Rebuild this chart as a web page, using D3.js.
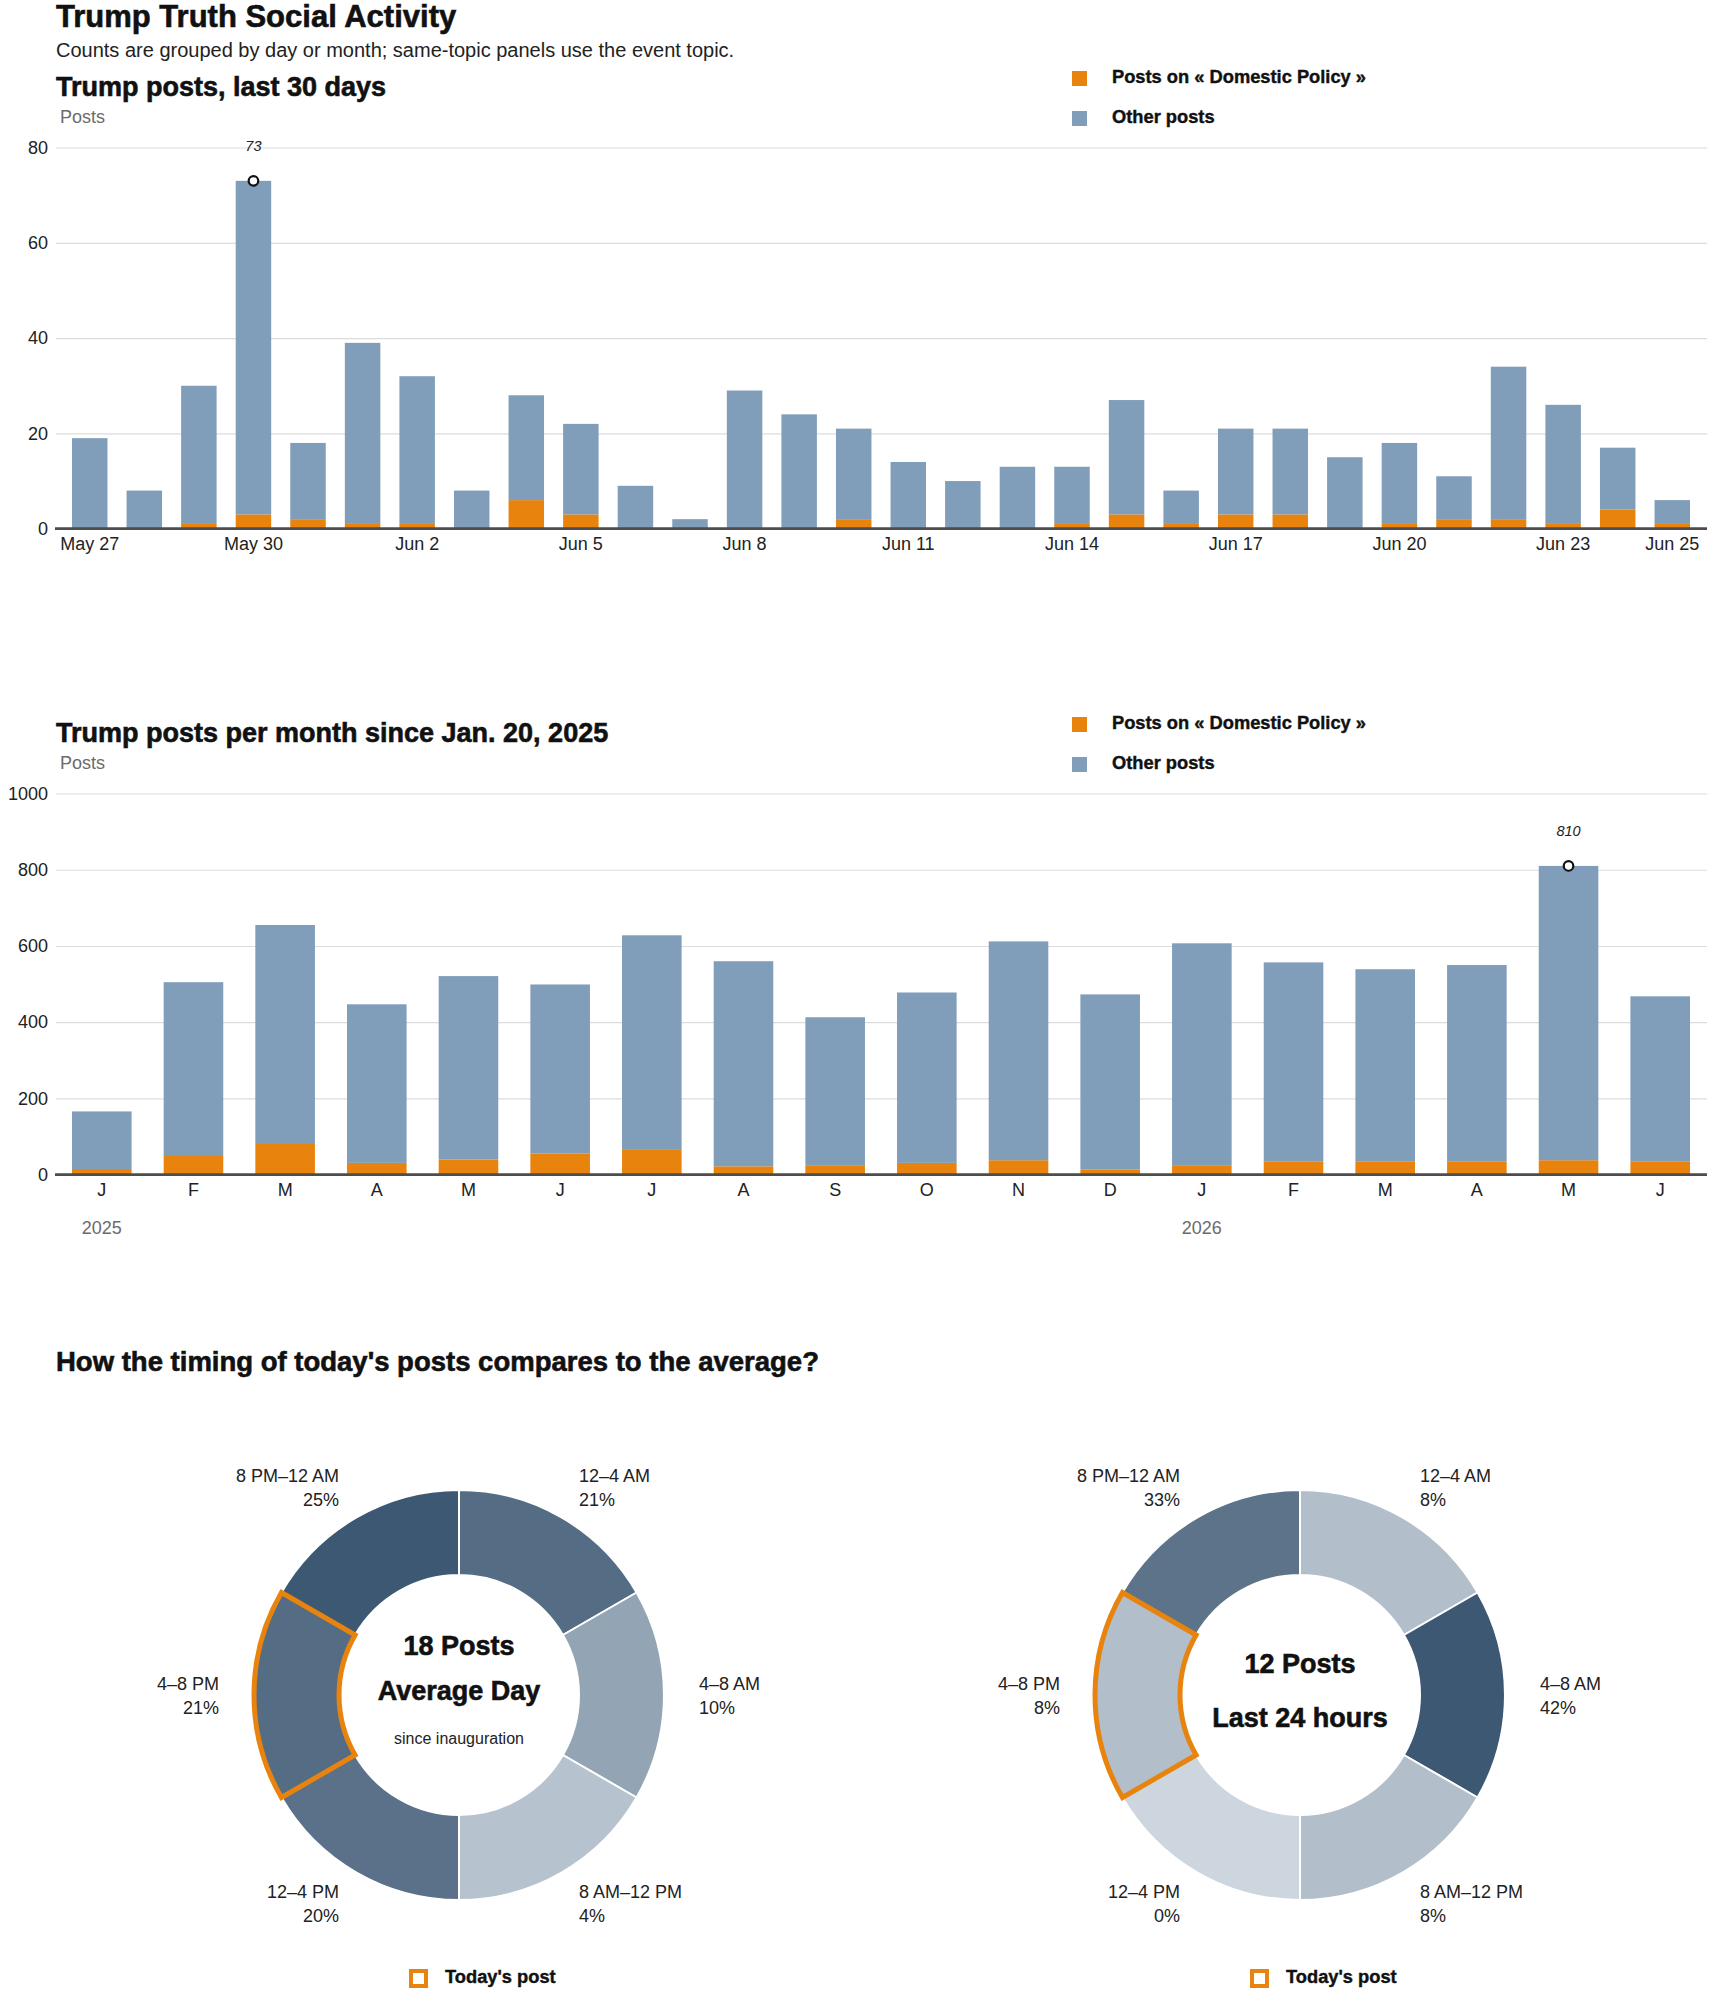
<!DOCTYPE html>
<html>
<head>
<meta charset="utf-8">
<script src="https://cdn.jsdelivr.net/npm/d3@7"></script>
<style>
  body { margin: 0; background: #fff; }
  svg text { font-family: "Liberation Sans", Arial, sans-serif; fill: #222; }
  .h1 { font-size: 31px; font-weight: 700; fill: #111; stroke: #111; stroke-width: 0.6px; }
  .sub { font-size: 20px; fill: #222; }
  .h2 { font-size: 27px; font-weight: 700; fill: #111; stroke: #111; stroke-width: 0.6px; }
  .h2.wide { font-size: 27.5px; }
  .leg { font-size: 18.3px; font-weight: 700; fill: #111; stroke: #111; stroke-width: 0.4px; }
  .unit { font-size: 18px; fill: #6b6b6b; }
  .axis text { font-size: 18px; fill: #222; }
  .year { font-size: 18px; fill: #6b6b6b; }
  .note { font-size: 14.5px; font-style: italic; fill: #222; }
  .slot { font-size: 18px; fill: #222; }
  .big { font-size: 27px; font-weight: 700; fill: #111; stroke: #111; stroke-width: 0.6px; }
  .small { font-size: 16px; fill: #222; }
</style>
</head>
<body>
<script>
// ---- données ----
const days = ["May 27","May 28","May 29","May 30","May 31","Jun 1","Jun 2","Jun 3","Jun 4","Jun 5",
  "Jun 6","Jun 7","Jun 8","Jun 9","Jun 10","Jun 11","Jun 12","Jun 13","Jun 14","Jun 15",
  "Jun 16","Jun 17","Jun 18","Jun 19","Jun 20","Jun 21","Jun 22","Jun 23","Jun 24","Jun 25"];
const dayTotal = [19,8,30,73,18,39,32,8,28,22,9,2,29,24,21,14,10,13,13,27,8,21,21,15,18,11,34,26,17,6];
const dayTopic = [0,0,1,3,2,1,1,0,6,3,0,0,0,0,2,0,0,0,1,3,1,3,3,0,1,2,2,1,4,1];
const dayTicks = ["May 27","May 30","Jun 2","Jun 5","Jun 8","Jun 11","Jun 14","Jun 17","Jun 20","Jun 23","Jun 25"];

const months = ["2025-01","2025-02","2025-03","2025-04","2025-05","2025-06","2025-07","2025-08","2025-09",
  "2025-10","2025-11","2025-12","2026-01","2026-02","2026-03","2026-04","2026-05","2026-06"];
const monthLetters = ["J","F","M","A","M","J","J","A","S","O","N","D","J","F","M","A","M","J"];
const monthTotal = [166,505,655,447,521,499,628,560,413,478,612,473,607,557,539,550,810,468];
const monthTopic = [15,49,83,31,40,56,67,22,25,31,38,14,25,34,34,34,38,34];
const years = [{ month: "2025-01", label: "2025" }, { month: "2026-01", label: "2026" }];

const slots = ["12–4 AM","4–8 AM","8 AM–12 PM","12–4 PM","4–8 PM","8 PM–12 AM"];
const avgShare = [21,10,4,20,21,25];
const todayShare = [8,42,8,0,8,33];
const todaySlot = "4–8 PM";

const topic = "Domestic Policy";
const orange = "#e8830e", blue = "#809db9";

// ---- canevas ----
const svg = d3.select("body").append("svg")
  .attr("width", 1710)
  .attr("height", 1993);

svg.append("text").attr("class", "h1").attr("x", 56).attr("y", 27).text("Trump Truth Social Activity");
svg.append("text").attr("class", "sub").attr("x", 56).attr("y", 57)
  .text("Counts are grouped by day or month; same-topic panels use the event topic.");

const legendItems = [
  { label: "Posts on « " + topic + " »", color: orange },
  { label: "Other posts", color: blue }
];

function barChart(o) {
  const g = svg.append("g").attr("transform", `translate(0,${o.dy})`);

  const x = d3.scaleBand().domain(o.cats).range([72, 1690]).paddingInner(0.35).paddingOuter(0);
  const y = d3.scaleLinear().domain([0, o.yMax]).range([528.7, 147.5]);

  g.append("text").attr("class", "h2").attr("x", 56).attr("y", 96).text(o.title);
  g.append("text").attr("class", "unit").attr("x", 60).attr("y", 123).text("Posts");

  // légende
  const leg = g.append("g").selectAll("g").data(legendItems).join("g")
    .attr("transform", (d, i) => `translate(1072,${71 + i * 40})`);
  leg.append("rect").attr("width", 15).attr("height", 15).attr("fill", d => d.color);
  leg.append("text").attr("class", "leg").attr("x", 40).attr("y", 11.5).text(d => d.label);

  // grille + axe y
  g.append("g").attr("class", "axis").attr("transform", "translate(56,0)")
    .call(d3.axisLeft(y).tickValues(o.yTicks).tickFormat(d3.format("d")).tickSize(-1651).tickPadding(8))
    .call(a => a.attr("font-size", null).attr("font-family", null))
    .call(a => a.select(".domain").remove())
    .call(a => a.selectAll("line").attr("stroke", "#dcdcdc").attr("stroke-width", 1.2));

  // barres empilées
  const rows = o.cats.map((c, i) => ({ cat: c, topic: o.topic[i], other: o.total[i] - o.topic[i] }));
  const series = d3.stack().keys(["topic", "other"])(rows);
  g.append("g").selectAll("g").data(series).join("g")
    .attr("fill", d => d.key == "topic" ? orange : blue)
    .selectAll("rect").data(d => d).join("rect")
    .attr("x", d => x(d.data.cat))
    .attr("width", x.bandwidth())
    .attr("y", d => y(d[1]))
    .attr("height", d => y(d[0]) - y(d[1]));

  // axe x
  g.append("g").attr("class", "axis").attr("transform", `translate(0,${y(0)})`)
    .call(d3.axisBottom(x).tickValues(o.ticks).tickFormat(o.fmt).tickSize(0).tickPadding(9))
    .call(a => a.attr("font-size", null).attr("font-family", null))
    .call(a => a.select(".domain").remove());

  g.append("line")
    .attr("x1", 55).attr("x2", 1707)
    .attr("y1", y(0)).attr("y2", y(0))
    .attr("stroke", "#4d4d4d").attr("stroke-width", 2.7);

  // maximum
  const iMax = d3.maxIndex(o.total);
  const cx = x(o.cats[iMax]) + x.bandwidth() / 2;
  g.append("circle").attr("cx", cx).attr("cy", y(o.total[iMax])).attr("r", 4.8)
    .attr("fill", "#fff").attr("stroke", "#111").attr("stroke-width", 2.2);
  g.append("text").attr("class", "note").attr("x", cx).attr("y", y(o.total[iMax]) - 30)
    .attr("text-anchor", "middle").text(o.total[iMax]);

  if (o.years) {
    g.selectAll("text.year").data(o.years).join("text")
      .attr("class", "year")
      .attr("x", d => x(d.month) + x.bandwidth() / 2)
      .attr("y", y(0) + 59)
      .attr("text-anchor", "middle")
      .text(d => d.label);
  }
}

barChart({
  dy: 0, title: "Trump posts, last 30 days",
  cats: days, total: dayTotal, topic: dayTopic,
  yMax: 80, yTicks: [0, 20, 40, 60, 80],
  ticks: dayTicks, fmt: d => d
});

barChart({
  dy: 646, title: "Trump posts per month since Jan. 20, 2025",
  cats: months, total: monthTotal, topic: monthTopic,
  yMax: 1000, yTicks: [0, 200, 400, 600, 800, 1000],
  ticks: months, fmt: d => monthLetters[months.indexOf(d)],
  years: years
});

// ---- anneaux ----
svg.append("text").attr("class", "h2 wide").attr("x", 56).attr("y", 1371)
  .text("How the timing of today's posts compares to the average?");

const pie = d3.pie().value(() => 4).sort(null);
const arc = d3.arc().innerRadius(120).outerRadius(205);

function donut(cx, cy, shares, lines) {
  const g = svg.append("g").attr("transform", `translate(${cx},${cy})`);
  const color = d3.scaleLinear().domain([0, d3.max(shares)]).range(["#cdd6df", "#3d5873"]);
  const arcs = pie(slots.map((s, i) => ({ slot: s, share: shares[i] })));

  g.selectAll("path.slice").data(arcs).join("path")
    .attr("class", "slice")
    .attr("d", arc)
    .attr("fill", d => color(d.data.share))
    .attr("stroke", "#fff")
    .attr("stroke-width", 2);

  g.selectAll("path.today").data(arcs.filter(d => d.data.slot == todaySlot)).join("path")
    .attr("class", "today")
    .attr("d", arc)
    .attr("fill", "none")
    .attr("stroke", orange)
    .attr("stroke-width", 5);

  const lab = g.selectAll("text.slot").data(arcs).join("text")
    .attr("class", "slot")
    .attr("text-anchor", d => Math.sin((d.startAngle + d.endAngle) / 2) > 0 ? "start" : "end")
    .attr("transform", d => {
      const a = (d.startAngle + d.endAngle) / 2;
      return `translate(${240 * Math.sin(a)},${-240 * Math.cos(a)})`;
    });
  lab.append("tspan").attr("x", 0).attr("y", -5).text(d => d.data.slot);
  lab.append("tspan").attr("x", 0).attr("y", 19).text(d => d.data.share + "%");

  lines.forEach(l => {
    g.append("text").attr("class", l.cls).attr("y", l.y).attr("text-anchor", "middle").text(l.text);
  });

  const leg = g.append("g").attr("transform", "translate(0,276)");
  leg.append("rect").attr("x", -48).attr("y", 0).attr("width", 15).attr("height", 15)
    .attr("fill", "#fff").attr("stroke", orange).attr("stroke-width", 4);
  leg.append("text").attr("class", "leg").attr("x", -14).attr("y", 12).text("Today's post");
}

donut(459, 1695, avgShare, [
  { text: "18 Posts", y: -40, cls: "big" },
  { text: "Average Day", y: 5, cls: "big" },
  { text: "since inauguration", y: 49, cls: "small" }
]);
donut(1300, 1695, todayShare, [
  { text: "12 Posts", y: -22, cls: "big" },
  { text: "Last 24 hours", y: 32, cls: "big" }
]);
</script>
</body>
</html>
